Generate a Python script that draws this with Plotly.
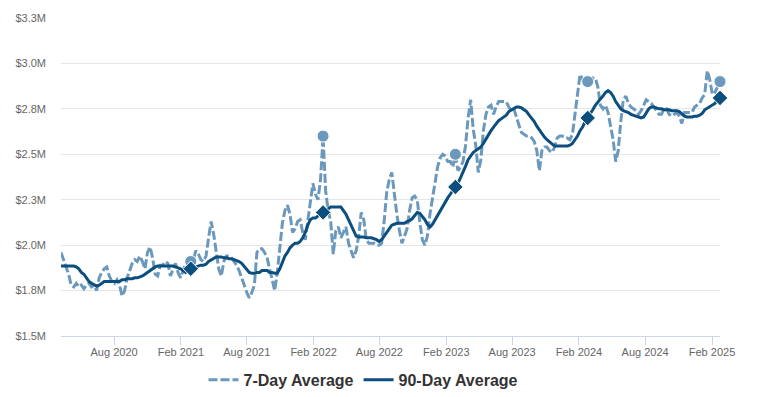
import pandas as pd
import plotly.graph_objects as go

# Weekly samples starting 2020-03-08 (values in $ millions)
start_date = "2020-03-08"

avg7 = [
    1.96, 1.92, 1.87, 1.84, 1.78, 1.77, 1.79, 1.77, 1.78, 1.76,
    1.78, 1.79, 1.77, 1.78, 1.75, 1.82, 1.85, 1.87, 1.88, 1.83,
    1.80, 1.79, 1.81, 1.78, 1.72, 1.75, 1.82, 1.86, 1.90, 1.92,
    1.91, 1.94, 1.91, 1.87, 1.96, 1.99, 1.93, 1.84, 1.83, 1.89,
    1.89, 1.91, 1.90, 1.83, 1.87, 1.90, 1.85, 1.82, 1.86, 1.90,
    1.92, 1.91, 1.92, 1.97, 1.95, 1.92, 1.91, 1.94, 2.04, 2.13,
    2.06, 1.97, 1.87, 1.83, 1.91, 1.94, 1.94, 1.93, 1.91, 1.89,
    1.86, 1.82, 1.77, 1.74, 1.71, 1.74, 1.78, 1.96, 1.98, 1.98,
    1.96, 1.93, 1.87, 1.80, 1.75, 1.85, 2.00, 2.12, 2.19, 2.22,
    2.17, 2.07, 2.09, 2.13, 2.14, 2.07, 2.03, 2.14, 2.26, 2.34,
    2.28, 2.25, 2.36, 2.60, 2.30, 2.19, 2.13, 1.95, 2.08, 2.10,
    2.04, 2.07, 2.10, 2.01, 1.97, 1.93, 1.97, 2.05, 2.18, 2.14,
    2.03, 2.01, 2.01, 2.01, 2.00, 2.00, 2.01, 2.13, 2.29, 2.36,
    2.40, 2.28, 2.17, 2.08, 2.01, 2.05, 2.09, 2.19, 2.26, 2.27,
    2.25, 2.13, 2.03, 2.00, 2.05, 2.17, 2.25, 2.35, 2.43, 2.48,
    2.50, 2.49, 2.46, 2.46, 2.43, 2.50, 2.41, 2.43, 2.46, 2.55,
    2.70, 2.80, 2.64, 2.55, 2.40, 2.47, 2.63, 2.72, 2.76, 2.77,
    2.72, 2.76, 2.79, 2.79, 2.79, 2.79, 2.76, 2.74, 2.75, 2.70,
    2.66, 2.62, 2.61, 2.60, 2.60, 2.59, 2.57, 2.52, 2.41, 2.52,
    2.54, 2.54, 2.52, 2.51, 2.54, 2.59, 2.60, 2.60, 2.59, 2.59,
    2.58, 2.61, 2.72, 2.83, 2.94, 2.91, 2.90, 2.90, 2.89, 2.92,
    2.92, 2.87, 2.77, 2.75, 2.77, 2.73, 2.66, 2.58, 2.46, 2.52,
    2.68, 2.80, 2.82, 2.78, 2.76, 2.75, 2.74, 2.72, 2.74, 2.77,
    2.80, 2.79, 2.78, 2.76, 2.74, 2.72, 2.72, 2.75, 2.75, 2.72,
    2.71, 2.72, 2.73, 2.71, 2.67, 2.73, 2.73, 2.73, 2.73, 2.76,
    2.77, 2.78, 2.81, 2.83, 2.96, 2.91, 2.83, 2.84, 2.87, 2.90,
]

avg90 = [
    1.885, 1.885, 1.885, 1.885, 1.885, 1.885, 1.88, 1.87, 1.85, 1.84,
    1.82, 1.80, 1.79, 1.78, 1.775, 1.78, 1.79, 1.80, 1.80, 1.80,
    1.80, 1.80, 1.80, 1.80, 1.81, 1.81, 1.815, 1.815, 1.815, 1.82,
    1.82, 1.825, 1.83, 1.84, 1.85, 1.86, 1.87, 1.88, 1.885, 1.885,
    1.885, 1.885, 1.885, 1.885, 1.885, 1.88, 1.875, 1.87, 1.86, 1.85,
    1.86, 1.87, 1.875, 1.88, 1.885, 1.89, 1.89, 1.895, 1.91, 1.92,
    1.93, 1.935, 1.935, 1.935, 1.93, 1.93, 1.925, 1.925, 1.92, 1.915,
    1.91, 1.90, 1.885, 1.87, 1.85, 1.845, 1.845, 1.85, 1.85, 1.86,
    1.86, 1.86, 1.85, 1.85, 1.845, 1.845, 1.87, 1.91, 1.94, 1.96,
    1.985, 2.00, 2.01, 2.01, 2.02, 2.04, 2.07, 2.11, 2.14, 2.15,
    2.15, 2.16, 2.17, 2.18, 2.19, 2.20, 2.21, 2.21, 2.21, 2.21,
    2.21, 2.19, 2.17, 2.14, 2.11, 2.08, 2.05, 2.045, 2.045, 2.045,
    2.04, 2.04, 2.04, 2.035, 2.03, 2.02, 2.03, 2.05, 2.07, 2.09,
    2.11, 2.115, 2.12, 2.12, 2.12, 2.12, 2.13, 2.135, 2.145, 2.16,
    2.18, 2.175, 2.16, 2.14, 2.115, 2.10, 2.115, 2.14, 2.16, 2.19,
    2.215, 2.24, 2.26, 2.28, 2.30, 2.32, 2.34, 2.37, 2.40, 2.435,
    2.47, 2.49, 2.51, 2.52, 2.53, 2.54, 2.56, 2.585, 2.61, 2.63,
    2.65, 2.67, 2.685, 2.695, 2.705, 2.715, 2.735, 2.745, 2.755, 2.76,
    2.76, 2.755, 2.745, 2.735, 2.715, 2.70, 2.68, 2.655, 2.635, 2.61,
    2.595, 2.58, 2.57, 2.56, 2.545, 2.545, 2.545, 2.545, 2.545, 2.545,
    2.55, 2.56, 2.58, 2.60, 2.63, 2.65, 2.68, 2.70, 2.72, 2.745,
    2.77, 2.79, 2.805, 2.82, 2.84, 2.85, 2.84, 2.82, 2.79, 2.77,
    2.75, 2.74, 2.735, 2.73, 2.72, 2.715, 2.71, 2.705, 2.70, 2.705,
    2.725, 2.75, 2.76, 2.76, 2.755, 2.75, 2.75, 2.745, 2.745, 2.745,
    2.74, 2.74, 2.74, 2.735, 2.72, 2.71, 2.705, 2.705, 2.705, 2.71,
    2.71, 2.715, 2.725, 2.745, 2.755, 2.765, 2.77, 2.78, 2.80, 2.81,
]

# Same-date-each-year highlight points (indices into the weekly series)
marker_idx = [51, 103, 155, 207, 259]

y_tickvals = [1.5, 1.75, 2.0, 2.25, 2.5, 2.75, 3.0, 3.25]
y_ticktext = ["$1.5M", "$1.8M", "$2.0M", "$2.3M", "$2.5M", "$2.8M", "$3.0M", "$3.3M"]

x_tickvals = ["2020-08-01", "2021-02-01", "2021-08-01", "2022-02-01", "2022-08-01",
              "2023-02-01", "2023-08-01", "2024-02-01", "2024-08-01", "2025-02-01"]
x_ticktext = ["Aug 2020", "Feb 2021", "Aug 2021", "Feb 2022", "Aug 2022",
              "Feb 2023", "Aug 2023", "Feb 2024", "Aug 2024", "Feb 2025"]

dates = pd.date_range(start_date, periods=len(avg7), freq="7D")

c7 = "#6b98bd"
c90 = "#0c4e7e"

fig = go.Figure()
fig.add_trace(go.Scatter(
    x=dates, y=avg7, mode="lines", name="7-Day Average",
    line=dict(color=c7, width=3, dash="9px,3px"), cliponaxis=False,
))
fig.add_trace(go.Scatter(
    x=dates, y=avg90, mode="lines", name="90-Day Average",
    line=dict(color=c90, width=3), cliponaxis=False,
))
fig.add_trace(go.Scatter(
    x=[dates[i] for i in marker_idx], y=[avg7[i] for i in marker_idx],
    mode="markers", showlegend=False,
    marker=dict(symbol="circle", size=12, color=c7, line=dict(color="white", width=1)),
    cliponaxis=False,
))
fig.add_trace(go.Scatter(
    x=[dates[i] for i in marker_idx], y=[avg90[i] for i in marker_idx],
    mode="markers", showlegend=False,
    marker=dict(symbol="diamond", size=12, color=c90, line=dict(color="white", width=1)),
    cliponaxis=False,
))

# the page body has an 8px default margin, so the figure is sized/offset to compensate
fig.update_layout(
    width=750, height=389,
    margin=dict(l=53, r=38, t=10, b=61, autoexpand=False),
    paper_bgcolor="white", plot_bgcolor="white",
    font=dict(family="Liberation Sans, Arial, sans-serif", color="#666666", size=11),
    showlegend=True,
    legend=dict(
        orientation="h", x=0.459, xanchor="center", y=-0.138, yanchor="middle",
        font=dict(size=16, color="#333333", family="Liberation Sans, Arial, sans-serif", weight="bold"),
        itemwidth=30,
    ),
    xaxis=dict(
        type="date",
        range=[dates[0], dates[-1]],
        tickvals=x_tickvals, ticktext=x_ticktext,
        showgrid=False, zeroline=False,
        showline=True, linecolor="#ccd6eb", linewidth=1,
        ticks="outside", ticklen=8, tickcolor="#ccd6eb", tickwidth=1,
        tickfont=dict(size=11, color="#666666"),
        ticklabelstandoff=-2,
        automargin=False,
    ),
    yaxis=dict(
        range=[1.5, 3.25],
        tickvals=y_tickvals, ticktext=y_ticktext,
        showgrid=True, gridcolor="#e6e6e6", gridwidth=1,
        zeroline=False, showline=False,
        tickfont=dict(size=11, color="#666666"),
        ticklabelstandoff=14,
        automargin=False,
    ),
)

fig.write_html("out.html")
